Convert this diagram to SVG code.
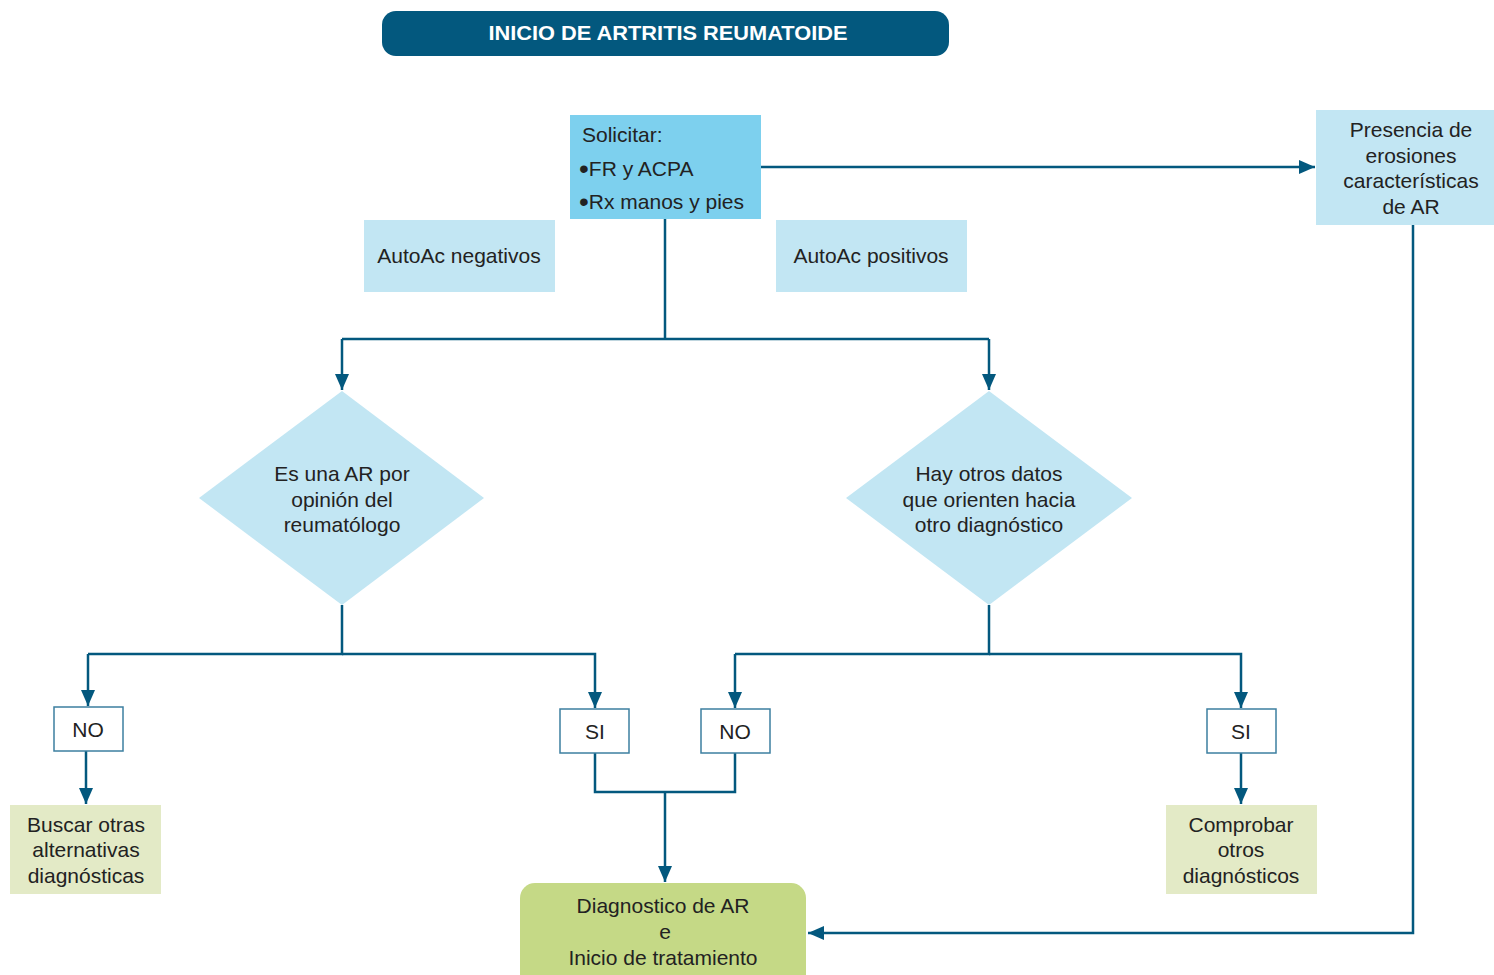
<svg xmlns="http://www.w3.org/2000/svg" width="1494" height="975" viewBox="0 0 1494 975">
<style>
.t{font-family:"Liberation Sans",Arial,sans-serif;font-size:21px;fill:#222;text-anchor:middle}
.l{stroke:#03587e;stroke-width:2.5;fill:none}
.yn{fill:#fff;stroke:#3c7fa0;stroke-width:1.5}
.lb{fill:#c2e6f3}
.gr{fill:#e3eac6}
.bu{font-size:28px}
</style>
<defs>
<marker id="ah" markerUnits="userSpaceOnUse" markerWidth="16" markerHeight="16" viewBox="0 0 16 16" refX="16" refY="8" orient="auto">
<path d="M0,1 L16,8 L0,15 Z" fill="#03587e"/>
</marker>
</defs>
<rect width="1494" height="975" fill="#fff"/>
<g id="connectors">
<path class="l" d="M665,219 V339"/>
<path class="l" d="M342,339 H989"/>
<path class="l" d="M342,339 V390" marker-end="url(#ah)"/>
<path class="l" d="M989,339 V390" marker-end="url(#ah)"/>
<path class="l" d="M761,167 H1315" marker-end="url(#ah)"/>
<path class="l" d="M342,605 V654 H88"/>
<path class="l" d="M88,654 V706" marker-end="url(#ah)"/>
<path class="l" d="M342,654 H595 V708" marker-end="url(#ah)"/>
<path class="l" d="M989,605 V654 H735"/>
<path class="l" d="M735,654 V708" marker-end="url(#ah)"/>
<path class="l" d="M989,654 H1241 V708" marker-end="url(#ah)"/>
<path class="l" d="M86,751 V804" marker-end="url(#ah)"/>
<path class="l" d="M1241,753 V804" marker-end="url(#ah)"/>
<path class="l" d="M595,753 V792 H735 V753"/>
<path class="l" d="M665,792 V882" marker-end="url(#ah)"/>
<path class="l" d="M1413,225 V933 H808" marker-end="url(#ah)"/>
</g>
<g id="title">
<rect x="382" y="11" width="567" height="45" rx="14" fill="#03587e"/>
<text x="668" y="40" font-family="'Liberation Sans',Arial,sans-serif" font-size="20" font-weight="bold" fill="#fff" text-anchor="middle" textLength="359" lengthAdjust="spacingAndGlyphs">INICIO DE ARTRITIS REUMATOIDE</text>
</g>
<g id="solicitar">
<rect x="570" y="115" width="191" height="104" fill="#7dd0ee"/>
<text class="t" style="text-anchor:start" x="582" y="142">Solicitar:</text>
<text class="t" style="text-anchor:start" x="579" y="176"><tspan class="bu" dy="2">•</tspan><tspan dy="-2">FR y ACPA</tspan></text>
<text class="t" style="text-anchor:start" x="579" y="209"><tspan class="bu" dy="2">•</tspan><tspan dy="-2">Rx manos y pies</tspan></text>
</g>
<g id="presencia">
<rect class="lb" x="1316" y="110" width="178" height="115"/>
<text class="t" x="1411" y="137">Presencia de</text>
<text class="t" x="1411" y="163">erosiones</text>
<text class="t" x="1411" y="188">características</text>
<text class="t" x="1411" y="214">de AR</text>
</g>
<g id="autoac-neg">
<rect class="lb" x="364" y="220" width="191" height="72"/>
<text class="t" x="459" y="263">AutoAc negativos</text>
</g>
<g id="autoac-pos">
<rect class="lb" x="776" y="220" width="191" height="72"/>
<text class="t" x="871" y="263">AutoAc positivos</text>
</g>
<g id="diamond-left">
<polygon class="lb" points="342,391 484,498 342,605 199,498"/>
<text class="t" x="342" y="481">Es una AR por</text>
<text class="t" x="342" y="507">opinión del</text>
<text class="t" x="342" y="532">reumatólogo</text>
</g>
<g id="diamond-right">
<polygon class="lb" points="989,391 1132,498 989,605 846,498"/>
<text class="t" x="989" y="481">Hay otros datos</text>
<text class="t" x="989" y="507">que orienten hacia</text>
<text class="t" x="989" y="532">otro diagnóstico</text>
</g>
<g id="no-left">
<rect class="yn" x="54" y="707" width="69" height="44"/>
<text class="t" x="88" y="737">NO</text>
</g>
<g id="si-left">
<rect class="yn" x="560" y="709" width="69" height="44"/>
<text class="t" x="595" y="739">SI</text>
</g>
<g id="no-right">
<rect class="yn" x="701" y="709" width="69" height="44"/>
<text class="t" x="735" y="739">NO</text>
</g>
<g id="si-right">
<rect class="yn" x="1207" y="709" width="69" height="44"/>
<text class="t" x="1241" y="739">SI</text>
</g>
<g id="buscar">
<rect class="gr" x="10" y="805" width="151" height="89"/>
<text class="t" x="86" y="832">Buscar otras</text>
<text class="t" x="86" y="857">alternativas</text>
<text class="t" x="86" y="883">diagnósticas</text>
</g>
<g id="comprobar">
<rect class="gr" x="1166" y="805" width="151" height="89"/>
<text class="t" x="1241" y="832">Comprobar</text>
<text class="t" x="1241" y="857">otros</text>
<text class="t" x="1241" y="883">diagnósticos</text>
</g>
<g id="diagnostico">
<rect x="520" y="883" width="286" height="110" rx="15" fill="#c5d986"/>
<text class="t" x="663" y="913">Diagnostico de AR</text>
<text class="t" x="665" y="939">e</text>
<text class="t" x="663" y="965">Inicio de tratamiento</text>
</g>
</svg>
